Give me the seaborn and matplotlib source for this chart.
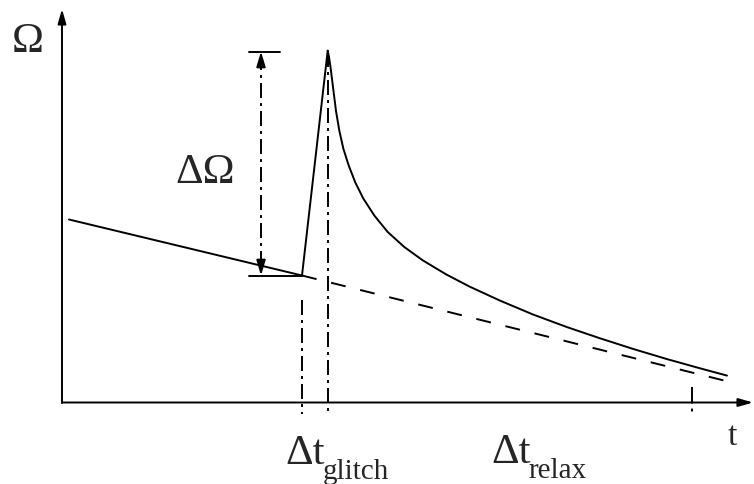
import matplotlib
matplotlib.use("Agg")
import matplotlib.pyplot as plt
import pandas as pd
import seaborn as sns

# Spin-down before the glitch
t_pre = [0.7, 24.0]
omega_pre = [18.3, 12.7]

# Sudden spin-up to the glitch peak
t_rise = [24.0, 26.57]
omega_rise = [12.7, 35.18]

# Relaxation back towards the old spin-down law
t_relax = [26.57, 26.70, 26.85, 27.00, 27.20, 27.40, 27.73, 28.13, 28.67, 29.33,
           30.13, 31.23, 32.57, 34.23, 36.07, 38.40, 40.80, 43.80, 47.10, 50.50,
           53.80, 57.10, 60.50, 63.80, 66.50]
omega_relax = [35.18, 34.55, 33.55, 32.35, 30.75, 29.15, 27.20, 25.40, 23.70, 22.00,
               20.40, 18.70, 17.05, 15.55, 14.22, 12.82, 11.57, 10.19, 8.80, 7.54,
               6.42, 5.36, 4.34, 3.42, 2.69]

# Extrapolated pre-glitch spin-down
t_extrap = [24.0, 67.0]
omega_extrap = [12.7, 2.0]

# Glitch bookkeeping
t_glitch_start = 24.0
t_glitch_peak = 26.6
t_relax_end = 63.0
omega_before = 12.7
omega_peak = 35.1
t_delta_arrow = 19.9

sns.set_theme(style="white")
plt.rcParams["font.family"] = ["Liberation Serif", "DejaVu Serif"]

fig = plt.figure(figsize=(7.54, 4.85), dpi=100)
ax = fig.add_axes([0, 0, 1, 1])
ax.set_xlim(-6.2, 69.2)
ax.set_ylim(-8.15, 40.35)
ax.axis("off")

LW = 1.4
DASHDOT = (7.7, 2.6, 1.5, 2.6)

curves = pd.concat([
    pd.DataFrame({"t": t_pre, "omega": omega_pre, "part": "pre"}),
    pd.DataFrame({"t": t_rise, "omega": omega_rise, "part": "rise"}),
    pd.DataFrame({"t": t_relax, "omega": omega_relax, "part": "relax"}),
])
sns.lineplot(data=curves, x="t", y="omega", units="part", estimator=None,
             sort=False, color="black", lw=LW, ax=ax,
             solid_joinstyle="round", solid_capstyle="round")

extrap = pd.DataFrame({"t": t_extrap, "omega": omega_extrap})
sns.lineplot(data=extrap, x="t", y="omega", color="black", lw=LW,
             dashes=False, ax=ax).lines[-1].set_dashes((7.7, 7.7))

# Coordinate axes with arrow heads
arrow_kw = dict(arrowstyle="-|>,head_length=0.87,head_width=0.25",
                mutation_scale=10, color="black", lw=LW, shrinkA=0, shrinkB=0)
ax.annotate("", xy=(0, 39.35), xytext=(0, -0.05), arrowprops=arrow_kw)
ax.annotate("", xy=(69.1, 0), xytext=(0, 0), arrowprops=arrow_kw)

# Glitch amplitude marker
ax.plot([18.7, 21.8], [omega_peak, omega_peak], color="black", lw=LW)
ax.plot([18.7, t_glitch_start], [omega_before, omega_before], color="black", lw=LW)
ax.plot([t_delta_arrow, t_delta_arrow], [omega_before + 1.0, omega_peak - 1.0],
        color="black", lw=LW, dashes=DASHDOT)
head_kw = dict(arrowstyle="-|>,head_length=1.0,head_width=0.3",
               mutation_scale=9, color="black", lw=LW, shrinkA=0, shrinkB=0)
ax.annotate("", xy=(t_delta_arrow, omega_peak), xytext=(t_delta_arrow, omega_peak - 1.3),
            arrowprops=head_kw)
ax.annotate("", xy=(t_delta_arrow, omega_before), xytext=(t_delta_arrow, omega_before + 1.3),
            arrowprops=head_kw)

# Time markers
ax.plot([t_glitch_start, t_glitch_start], [10.25, -1.15], color="black", lw=LW, dashes=DASHDOT)
ax.plot([t_glitch_peak, t_glitch_peak], [omega_peak, -1.15], color="black", lw=LW, dashes=DASHDOT)
ax.plot([t_relax_end, t_relax_end], [1.55, -1.15], color="black", lw=LW, dashes=(8.5, 2.6, 1.5, 2.6))

# Labels
ax.text(-5.03, 35.15, "Ω", fontsize=31, ha="left", va="baseline")
ax.text(11.3, 22.0, "ΔΩ", fontsize=31, ha="left", va="baseline")
ax.text(66.6, -4.15, "t", fontsize=24, ha="left", va="baseline")
ax.text(22.3, -6.1, "Δt", fontsize=31, ha="left", va="baseline")
ax.text(26.1, -7.55, "glitch", fontsize=21, ha="left", va="baseline")
ax.text(42.97, -5.95, "Δt", fontsize=31, ha="left", va="baseline")
ax.text(46.6, -7.45, "relax", fontsize=21, ha="left", va="baseline")

fig.savefig("out.png", dpi=100, facecolor="white")
